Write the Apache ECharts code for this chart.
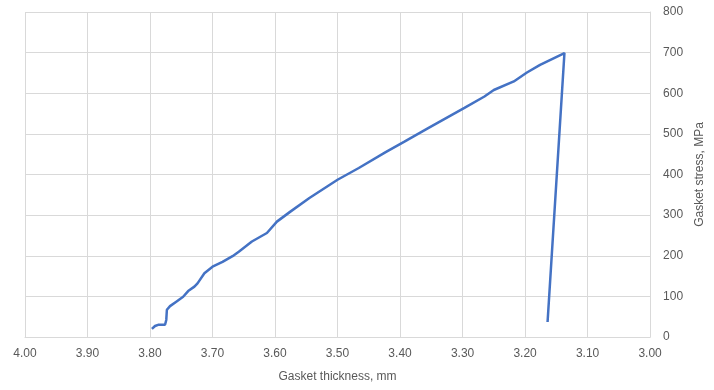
<!DOCTYPE html>
<html>
<head>
<meta charset="utf-8">
<script src="https://cdn.jsdelivr.net/npm/echarts@6/dist/echarts.min.js"></script>
<style>
  html, body { margin: 0; padding: 0; background: #ffffff; }
  #chart { width: 714px; height: 390px; }
</style>
</head>
<body>
<div id="chart"></div>
<script>
// Gasket compression curve: thickness (mm) vs stress (MPa), loading then unloading
const thickness = [3.797, 3.792, 3.787, 3.776, 3.774, 3.773, 3.768, 3.758, 3.747, 3.739,
  3.729, 3.724, 3.713, 3.700, 3.684, 3.668, 3.658, 3.637, 3.613, 3.597,
  3.576, 3.545, 3.500, 3.466, 3.423, 3.393, 3.355, 3.297, 3.265, 3.250,
  3.218, 3.197, 3.176, 3.137, 3.164];
const stress = [20, 27, 30, 30, 42, 67, 76, 87, 99, 113,
  124, 132, 157, 173, 185, 199, 210, 235, 256, 284,
  308, 342, 387, 416, 455, 481, 514, 564, 592, 608,
  629, 651, 670, 699, 37];

const xTitle = 'Gasket thickness, mm';
const yTitle = 'Gasket stress, MPa';

const points = thickness.map((t, i) => [t, stress[i]]);

const gridColor = '#d9d9d9';
const textColor = '#595959';
const fontFamily = 'Liberation Sans, Arial, sans-serif';

const chart = echarts.init(document.getElementById('chart'), null, { renderer: 'canvas' });
chart.setOption({
  animation: false,
  backgroundColor: '#ffffff',
  grid: { left: 25, right: 56, top: 12, bottom: 53, containLabel: false },
  xAxis: {
    type: 'value',
    inverse: true,
    min: 3,
    max: 4,
    interval: 0.1,
    name: xTitle,
    nameLocation: 'middle',
    nameGap: 34,
    nameTextStyle: { color: textColor, fontSize: 12, fontFamily },
    axisLine: { show: true, lineStyle: { color: gridColor, width: 1 } },
    axisTick: { show: false },
    axisLabel: {
      color: textColor, fontSize: 12, fontFamily, margin: 11,
      formatter: v => v.toFixed(2)
    },
    splitLine: { show: true, lineStyle: { color: gridColor, width: 1 } }
  },
  yAxis: {
    type: 'value',
    position: 'right',
    min: 0,
    max: 800,
    interval: 100,
    name: yTitle,
    nameLocation: 'middle',
    nameGap: 42,
    nameRotate: 90,
    nameTextStyle: { color: textColor, fontSize: 12, fontFamily },
    axisLine: { show: true, lineStyle: { color: gridColor, width: 1 } },
    axisTick: { show: false },
    axisLabel: { color: textColor, fontSize: 12, fontFamily, margin: 13 },
    splitLine: { show: true, lineStyle: { color: gridColor, width: 1 } }
  },
  series: [{
    type: 'line',
    data: points,
    showSymbol: false,
    smooth: false,
    lineStyle: { color: '#4472c4', width: 2.5 },
    itemStyle: { color: '#4472c4' }
  }]
});
</script>
</body>
</html>
